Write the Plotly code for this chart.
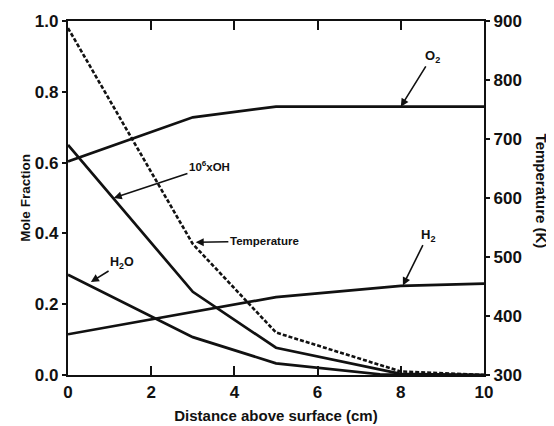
import plotly.graph_objects as go

distance = [0, 3, 5, 8, 10]
o2 = [0.603, 0.728, 0.758, 0.758, 0.758]
oh = [0.65, 0.235, 0.077, 0.003, 0.0]
h2o_x = [0, 3, 5, 7.5, 10]
h2o = [0.283, 0.107, 0.033, 0.002, 0.0]
h2_x = [0, 5, 8, 10]
h2 = [0.115, 0.22, 0.252, 0.258]
temp_x = [0, 3, 5, 8, 10]
temperature = [888, 522, 372, 306, 300]

black = "#111111"
font = dict(family="Liberation Sans, Arial, sans-serif", color=black)

fig = go.Figure()
line = dict(color=black, width=2.7)
fig.add_trace(go.Scatter(x=distance, y=o2, mode="lines", line=line, name="O2"))
fig.add_trace(go.Scatter(x=distance, y=oh, mode="lines", line=line, name="OH"))
fig.add_trace(go.Scatter(x=h2o_x, y=h2o, mode="lines", line=line, name="H2O"))
fig.add_trace(go.Scatter(x=h2_x, y=h2, mode="lines", line=line, name="H2"))
fig.add_trace(go.Scatter(x=temp_x, y=temperature, mode="lines", yaxis="y2",
                         line=dict(color=black, width=2.6, dash="4px,2px"), name="Temperature"))


def label(text, x, y, ax, ay, size=11):
    fig.add_annotation(x=x, y=y, ax=ax, ay=ay, xref="x", yref="y", axref="x", ayref="y",
                       text=text, showarrow=True, arrowhead=2, arrowsize=1, arrowwidth=1.6,
                       arrowcolor=black, font=dict(size=size, **font))


label("<b>O<sub>2</sub></b>", 8.0, 0.758, 8.75, 0.9, size=13)
label("<b>10<sup>6</sup>xOH</b>", 1.1, 0.5, 3.4, 0.59, size=11.5)
label("<b>Temperature</b>", 3.07, 0.375, 4.72, 0.378, size=11.5)
label("<b>H<sub>2</sub>O</b>", 0.55, 0.263, 1.3, 0.317, size=12.5)
label("<b>H<sub>2</sub></b>", 8.05, 0.253, 8.65, 0.395, size=13)

fig.add_annotation(x=1.163, y=0.52, xref="paper", yref="paper", text="<b>Temperature (K)</b>",
                   showarrow=False, textangle=90, font=dict(size=15, **font))

axis_common = dict(showgrid=False, zeroline=False, linecolor=black, linewidth=2.2,
                   tickcolor=black, tickwidth=2, tickfont=dict(size=17, **font),
                   automargin=False)

# page body has an 8px margin, so the figure is 8px smaller and shifted margins
fig.update_layout(
    width=546, height=418,
    margin=dict(l=60, r=70, t=13, b=51),
    paper_bgcolor="white", plot_bgcolor="white",
    showlegend=False,
    xaxis=dict(range=[0, 10], tickvals=[0, 2, 4, 6, 8, 10], ticktext=["<b>0</b>", "<b>2</b>", "<b>4</b>", "<b>6</b>", "<b>8</b>", "<b>10</b>"],
               ticks="inside", ticklen=9, mirror="ticks",
               title=dict(text="<b>Distance above surface (cm)</b>", font=dict(size=15, **font), standoff=10),
               **axis_common),
    yaxis=dict(range=[0, 1], tickvals=[0, 0.2, 0.4, 0.6, 0.8, 1.0],
               ticktext=["<b>0.0</b>", "<b>0.2</b>", "<b>0.4</b>", "<b>0.6</b>", "<b>0.8</b>", "<b>1.0</b>"],
               ticks="outside", ticklen=4,
               title=dict(text="<b>Mole Fraction</b>", font=dict(size=13.5, **font), standoff=1),
               **axis_common),
    yaxis2=dict(range=[300, 900], overlaying="y", side="right",
                tickvals=[300, 400, 500, 600, 700, 800, 900],
                ticktext=["<b>300</b>", "<b>400</b>", "<b>500</b>", "<b>600</b>", "<b>700</b>", "<b>800</b>", "<b>900</b>"],
                ticks="outside", ticklen=4, showline=True,
                **axis_common),
)

fig.write_html("out.html")
